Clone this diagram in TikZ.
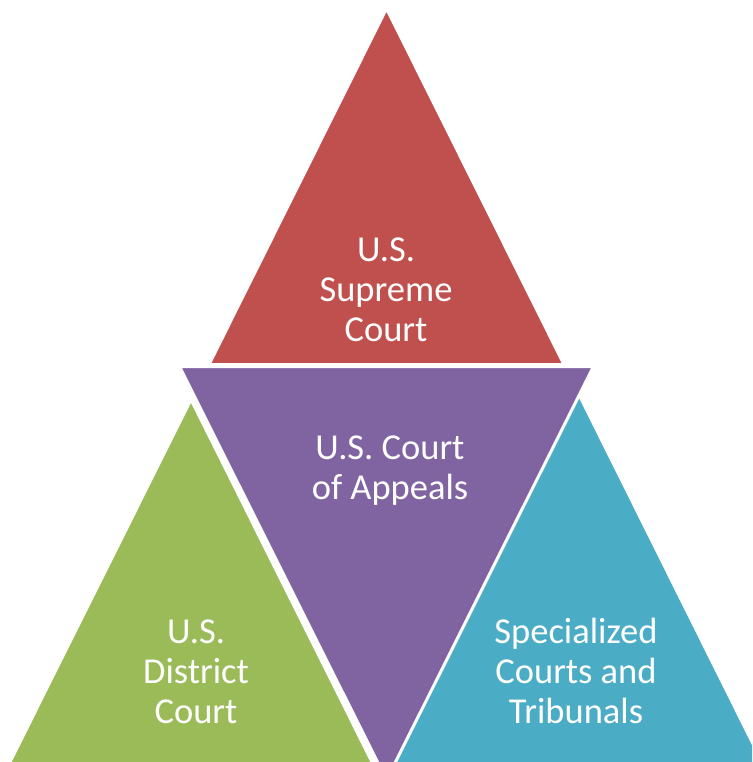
\documentclass[tikz,border=0pt]{standalone}
\usepackage{fontspec}
\setmainfont{Carlito}
\definecolor{cred}{HTML}{C0504D}
\definecolor{cpurple}{HTML}{8064A2}
\definecolor{cgreen}{HTML}{9BBB59}
\definecolor{cblue}{HTML}{4BACC6}
\tikzset{
  tri/.style={draw=white, line width=3pt, line join=miter},
  lbl/.style={text=white, align=center, font=\fontsize{36.5}{40}\selectfont, inner sep=0pt}
}
\begin{document}
\begin{tikzpicture}[x=1pt,y=-1pt]
\useasboundingbox (0,0) rectangle (752,762);
\clip (0,0) rectangle (752,762);
% red
\filldraw[tri, fill=cred] (386.5,8.5) -- (564,364.5) -- (209,364.5) -- cycle;
% green
\filldraw[tri, fill=cgreen] (191,399.5) -- (392,802) -- (-10,802) -- cycle;
% blue
\filldraw[tri, fill=cblue] (577,390.5) -- (782,802) -- (372,802) -- cycle;
% purple
\filldraw[tri, fill=cpurple] (179.5,366.5) -- (593.5,366.5) -- (386.5,780) -- cycle;
\node[lbl] (sup) at (386,290) {U.S.\\Supreme\\Court};
\node[lbl] (app) at (390,471) {U.S. Court\\of Appeals};
\node[lbl] (dist) at (196,672) {U.S.\\District\\Court};
\node[lbl] (spec) at (576,671) {Specialized\\Courts and\\Tribunals};
\end{tikzpicture}
\end{document}
